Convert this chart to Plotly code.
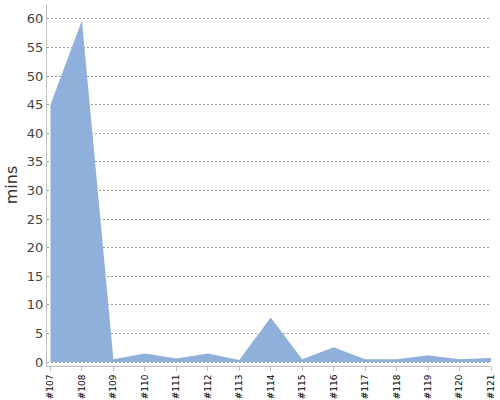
import plotly.graph_objects as go

builds = ["#107", "#108", "#109", "#110", "#111", "#112", "#113", "#114",
          "#115", "#116", "#117", "#118", "#119", "#120", "#121"]
minutes = [45.0, 59.7, 0.5, 1.5, 0.6, 1.5, 0.35, 7.8, 0.5, 2.6, 0.5, 0.5, 1.2, 0.5, 0.7]
y_ticks = list(range(0, 61, 5))

x_idx = list(range(len(builds)))

fig = go.Figure()
fig.add_trace(go.Scatter(
    x=x_idx, y=minutes, mode="lines", fill="tozeroy",
    line=dict(width=0, color="rgb(143,176,218)"),
    fillcolor="rgb(143,176,218)", hoverinfo="skip", showlegend=False,
))

fig.update_layout(
    width=500, height=400,
    margin=dict(l=47, r=9, t=4, b=34, autoexpand=False),
    paper_bgcolor="white", plot_bgcolor="white",
    font=dict(family="DejaVu Sans", color="#444"),
    xaxis=dict(
        range=[-0.11, 14], tickvals=x_idx, ticktext=builds, tickangle=-90,
        tickfont=dict(size=9, color="#000"), showgrid=False, zeroline=False,
        showline=True, linecolor="#c0c0c0", linewidth=1, automargin=False,
        ticks="outside", ticklen=4, tickcolor="#c0c0c0",
    ),
    yaxis=dict(
        range=[-0.7, 62.6], tickvals=y_ticks, tickfont=dict(size=13, color="#444"),
        showgrid=True, gridcolor="#9a9a9a", griddash="2px,2px", gridwidth=1,
        zeroline=False, showline=True, linecolor="#c0c0c0", linewidth=1,
        ticks="", automargin=False,
        title=dict(text="mins", font=dict(size=16, color="#333"), standoff=5),
    ),
)

fig.write_html("out.html", config={"displayModeBar": False},
               post_script="document.body.style.margin='0';document.body.style.overflow='hidden';")
